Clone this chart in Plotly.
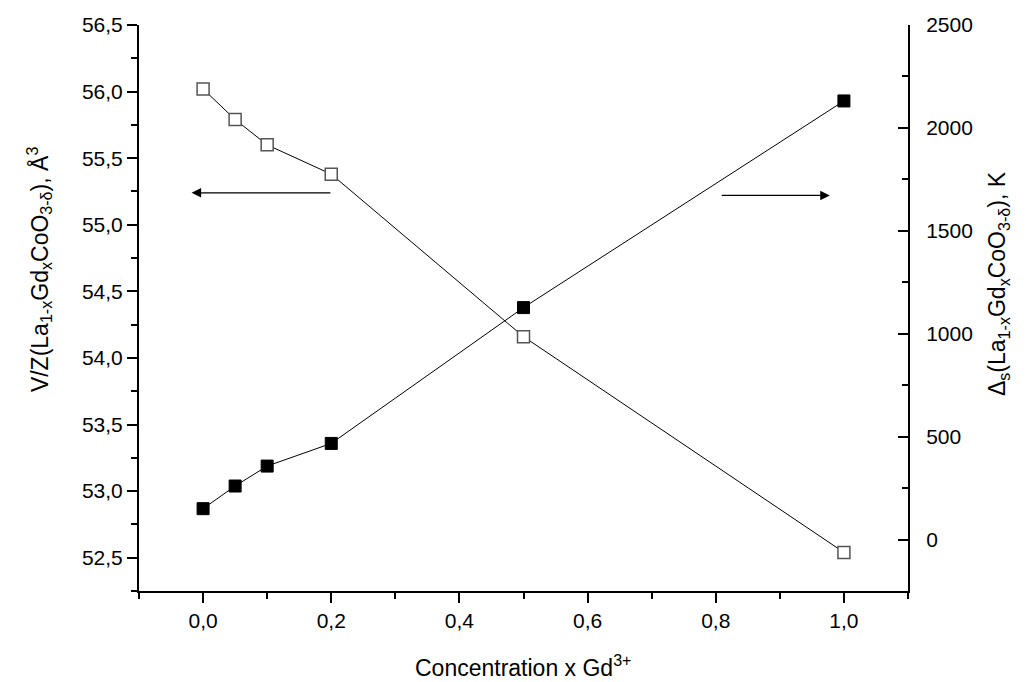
import plotly.graph_objects as go

# Data
x_conc = [0.0, 0.05, 0.1, 0.2, 0.5, 1.0]
volume = [56.02, 55.79, 55.60, 55.38, 54.16, 52.54]      # left axis, open squares
delta_s = [150, 260, 357, 467, 1127, 2131]                # right axis, filled squares

FONT = "Arial"

fig = go.Figure()
fig.add_trace(go.Scatter(
    x=x_conc, y=volume, mode="lines+markers",
    line=dict(color="black", width=1),
    marker=dict(symbol="square", size=12, color="white",
                line=dict(color="#555555", width=1.5)),
    yaxis="y", showlegend=False))
fig.add_trace(go.Scatter(
    x=x_conc, y=delta_s, mode="lines+markers",
    line=dict(color="black", width=1),
    marker=dict(symbol="square", size=12, color="black",
                line=dict(color="black", width=1)),
    yaxis="y2", showlegend=False))

axis_common = dict(showgrid=False, zeroline=False, showline=True, linecolor="black",
                   linewidth=2, tickcolor="black", tickwidth=2, ticklen=10,
                   tickfont=dict(family=FONT, size=21, color="black"))

fig.update_layout(
    width=1029, height=682,
    margin=dict(l=139, r=121, t=25, b=91),
    plot_bgcolor="white", paper_bgcolor="white",
    separators=",.",
    font=dict(family=FONT, color="black"),
    xaxis=dict(range=[-0.1, 1.1], tick0=0, dtick=0.2, tickformat=".1f",
               ticks="outside", minor=dict(dtick=0.1, tick0=0, ticks="outside", ticklen=6,
                                           tickwidth=2, tickcolor="black"),
               **axis_common),
    yaxis=dict(range=[52.25, 56.5], tick0=0, dtick=0.5, tickformat=".1f",
               ticks="outside", minor=dict(dtick=0.25, tick0=0, ticks="outside", ticklen=6,
                                           tickwidth=2, tickcolor="black"),
               **axis_common),
    yaxis2=dict(range=[-250, 2500], tick0=0, dtick=500, overlaying="y", side="right",
                ticks="inside", ticklabelstandoff=12,
                minor=dict(dtick=250, tick0=0, ticks="inside", ticklen=6,
                           tickwidth=2, tickcolor="black"),
                **axis_common),
)

annotations = [
    dict(text="Concentration x Gd<sup>3+</sup>", xref="paper", yref="paper",
         x=0.5, y=-0.132, xanchor="center", yanchor="middle", showarrow=False,
         font=dict(family=FONT, size=23, color="black")),
    dict(text="V/Z(La<sub>1-x</sub>Gd<sub>x</sub>CoO<sub>3-δ</sub>), Å<sup>3</sup>",
         xref="paper", yref="paper", x=-0.13, y=0.567, xanchor="center", yanchor="middle",
         textangle=-90, showarrow=False, font=dict(family=FONT, size=23, color="black")),
    dict(text="Δ<sub>s</sub>(La<sub>1-x</sub>Gd<sub>x</sub>CoO<sub>3-δ</sub>), K",
         xref="paper", yref="paper", x=1.117, y=0.544, xanchor="center", yanchor="middle",
         textangle=-90, showarrow=False, font=dict(family=FONT, size=23, color="black")),
    # arrows pointing to the relevant axes
    dict(x=-0.018, y=55.24, ax=0.201, ay=55.24, xref="x", yref="y", axref="x", ayref="y",
         text="", showarrow=True, arrowhead=2, arrowsize=1.6, arrowwidth=1.2, arrowcolor="black"),
    dict(x=0.978, y=55.22, ax=0.807, ay=55.22, xref="x", yref="y", axref="x", ayref="y",
         text="", showarrow=True, arrowhead=2, arrowsize=1.6, arrowwidth=1.2, arrowcolor="black"),
]
fig.update_layout(annotations=annotations)

fig.write_html("out.html")
